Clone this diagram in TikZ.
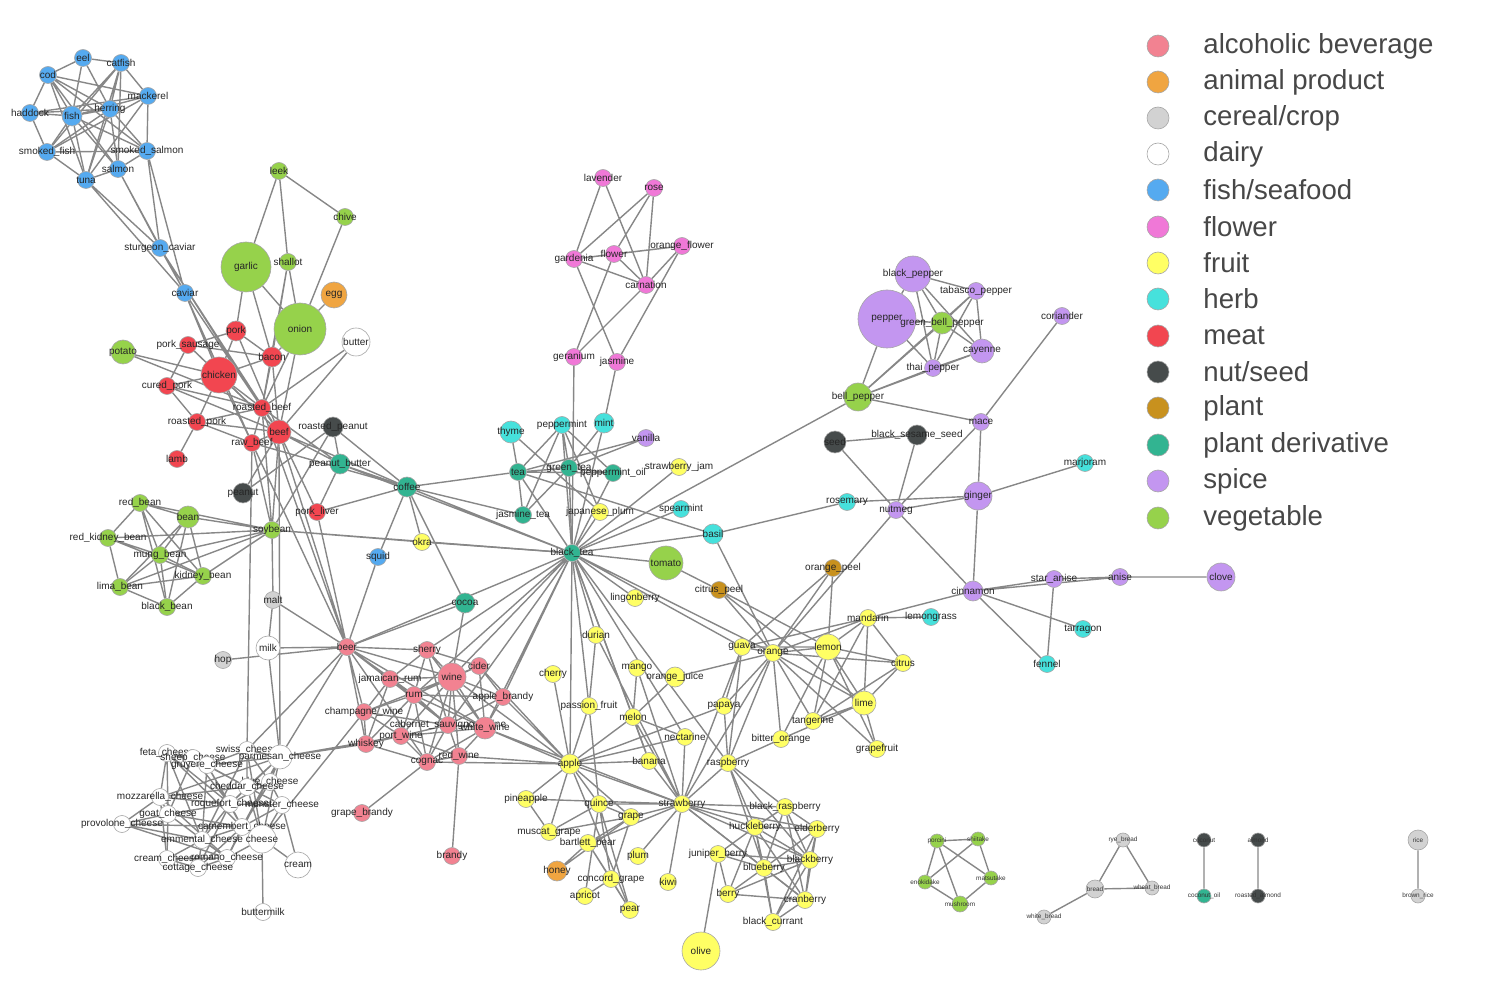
\documentclass[tikz,border=0pt]{standalone}
\usepackage{fontspec}
\setmainfont{Liberation Sans}
\pgfdeclarelayer{bg}
\pgfsetlayers{bg,main}
\definecolor{colAlc}{RGB}{242,130,145}
\definecolor{colAni}{RGB}{240,165,65}
\definecolor{colCer}{RGB}{210,210,210}
\definecolor{colFsh}{RGB}{85,170,240}
\definecolor{colFlw}{RGB}{240,120,215}
\definecolor{colFrt}{RGB}{255,255,100}
\definecolor{colHrb}{RGB}{70,225,220}
\definecolor{colMea}{RGB}{242,70,80}
\definecolor{colNut}{RGB}{70,75,75}
\definecolor{colPla}{RGB}{200,145,30}
\definecolor{colPld}{RGB}{50,180,145}
\definecolor{colSpi}{RGB}{195,150,240}
\definecolor{colVeg}{RGB}{150,210,75}
\definecolor{edgegray}{RGB}{135,135,135}
\newcommand\labfont{\fontsize{5}{6}\selectfont}
\newcommand\tinylab{\fontsize{3.2}{4}\selectfont}
\newcommand\legfont{\fontsize{13.8}{16}\selectfont}
\tikzset{
  ing/.style={circle, draw=black!35, line width=0.3pt, inner sep=0pt, minimum size=8.5pt},
  alc/.style={ing, fill=colAlc},
  ani/.style={ing, fill=colAni},
  cer/.style={ing, fill=colCer},
  dai/.style={ing, fill=white},
  fsh/.style={ing, fill=colFsh},
  flw/.style={ing, fill=colFlw},
  frt/.style={ing, fill=colFrt},
  hrb/.style={ing, fill=colHrb},
  mea/.style={ing, fill=colMea},
  nut/.style={ing, fill=colNut},
  pla/.style={ing, fill=colPla},
  pld/.style={ing, fill=colPld},
  spi/.style={ing, fill=colSpi},
  veg/.style={ing, fill=colVeg},
  every label/.style={font=\labfont, text=black!85, inner sep=0pt},
  fedge/.style={draw=edgegray, line width=0.7pt},
  legtext/.style={anchor=west, font=\legfont, text=black!72, inner sep=0pt},
}
\begin{document}
\begin{tikzpicture}[x=0.5pt, y=-0.5pt]
\useasboundingbox (0,0) rectangle (1500,994);
% fish
\node[fsh, label={center:eel}] (eel) at (83,58) {};
\node[fsh, label={center:catfish}] (catfish) at (121,63) {};
\node[fsh, label={center:cod}] (cod) at (48,75) {};
\node[fsh, label={center:mackerel}] (mackerel) at (148,96) {};
\node[fsh, label={center:herring}] (herring) at (110,109) {};
\node[fsh, label={center:haddock}] (haddock) at (30,113) {};
\node[fsh, minimum size=10pt, label={center:fish}] (fish) at (72,116) {};
\node[fsh, label={center:smoked\_fish}] (smokedfish) at (47,152) {};
\node[fsh, label={center:smoked\_salmon}] (smokedsalmon) at (147,151) {};
\node[fsh, label={center:salmon}] (salmon) at (118,169) {};
\node[fsh, label={center:tuna}] (tuna) at (86,180) {};
\node[fsh, label={center:sturgeon\_caviar}] (sturgeon) at (160,248) {};
\node[fsh, label={center:caviar}] (caviar) at (185,293) {};
% vegetables, meat
\node[veg, label={center:leek}] (leek) at (279,171) {};
\node[veg, label={center:chive}] (chive) at (345,217) {};
\node[veg, minimum size=25pt, label={center:garlic}] (garlic) at (246,267) {};
\node[veg, label={center:shallot}] (shallot) at (288,262) {};
\node[ani, minimum size=13pt, label={center:egg}] (egg) at (334,295) {};
\node[veg, minimum size=26pt, label={center:onion}] (onion) at (300,329) {};
\node[dai, minimum size=14pt, label={center:butter}] (butter) at (356,342) {};
\node[veg, minimum size=12pt, label={center:potato}] (potato) at (123,352) {};
\node[mea, minimum size=10pt, label={center:pork}] (pork) at (236,331) {};
\node[mea, label={center:pork\_sausage}] (porksausage) at (188,345) {};
\node[mea, minimum size=10pt, label={center:bacon}] (bacon) at (272,357) {};
\node[mea, minimum size=18pt, label={center:chicken}] (chicken) at (219,375) {};
\node[mea, label={center:cured\_pork}] (curedpork) at (167,386) {};
\node[mea, label={center:roasted\_beef}] (roastedbeef) at (262,408) {};
\node[mea, label={center:roasted\_pork}] (roastedpork) at (197,422) {};
\node[mea, minimum size=12pt, label={center:beef}] (beef) at (279,432) {};
\node[nut, minimum size=10pt, label={center:roasted\_peanut}] (roastedpeanut) at (333,427) {};
\node[mea, label={center:raw\_beef}] (rawbeef) at (252,443) {};
\node[mea, label={center:lamb}] (lamb) at (177,459) {};
\node[pld, minimum size=10pt, label={center:peanut\_butter}] (peanutbutter) at (340,464) {};
\node[pld, minimum size=10pt, label={center:coffee}] (coffee) at (407,487) {};
\node[nut, minimum size=10pt, label={center:peanut}] (peanut) at (243,493) {};
\node[mea, label={center:pork\_liver}] (porkliver) at (317,512) {};
% beans
\node[veg, label={center:red\_bean}] (redbean) at (140,503) {};
\node[veg, minimum size=11pt, label={center:bean}] (bean) at (188,517) {};
\node[veg, label={center:red\_kidney\_bean}] (redkidney) at (108,538) {};
\node[veg, label={center:soybean}] (soybean) at (272,530) {};
\node[veg, label={center:mung\_bean}] (mungbean) at (160,555) {};
\node[veg, label={center:kidney\_bean}] (kidneybean) at (203,576) {};
\node[veg, label={center:lima\_bean}] (limabean) at (120,587) {};
\node[veg, label={center:black\_bean}] (blackbean) at (167,607) {};
\node[fsh, label={center:squid}] (squid) at (378,557) {};
\node[frt, label={center:okra}] (okra) at (422,542) {};
\node[cer, label={center:malt}] (malt) at (273,600) {};
\node[pld, minimum size=10pt, label={center:cocoa}] (cocoa) at (465,603) {};
\node[dai, minimum size=12pt, label={center:milk}] (milk) at (268,648) {};
\node[cer, label={center:hop}] (hop) at (223,660) {};
\node[alc, label={center:beer}] (beer) at (347,647) {};
% alcoholic beverages
\node[alc, label={center:sherry}] (sherry) at (427,650) {};
\node[alc, label={center:cider}] (cider) at (479,666) {};
\node[alc, minimum size=14pt, label={center:wine}] (wine) at (452,677) {};
\node[alc, label={center:jamaican\_rum}] (jamrum) at (390,679) {};
\node[alc, label={center:rum}] (rum) at (414,695) {};
\node[alc, label={center:apple\_brandy}] (applebrandy) at (503,697) {};
\node[alc, label={center:champagne\_wine}] (champagne) at (364,712) {};
\node[alc, label={center:cabernet\_sauvignon\_wine}] (cabernet) at (448,725) {};
\node[alc, minimum size=11pt, label={center:white\_wine}] (whitewine) at (485,728) {};
\node[alc, label={center:port\_wine}] (portwine) at (401,736) {};
\node[alc, label={center:whiskey}] (whiskey) at (366,744) {};
\node[alc, label={center:cognac}] (cognac) at (427,762) {};
\node[alc, label={center:red\_wine}] (redwine) at (459,756) {};
\node[alc, label={center:grape\_brandy}] (grapebrandy) at (362,813) {};
\node[alc, label={center:brandy}] (brandy) at (452,856) {};
% cheeses
\node[dai, label={center:feta\_cheese}] (feta) at (167,753) {};
\node[dai, label={center:sheep\_cheese}] (sheep) at (193,758) {};
\node[dai, label={center:gruyere\_cheese}] (gruyere) at (207,765) {};
\node[dai, label={center:swiss\_cheese}] (swiss) at (247,750) {};
\node[dai, minimum size=12pt, label={center:parmesan\_cheese}] (parmesan) at (280,757) {};
\node[dai, label={center:blue\_cheese}] (blue) at (270,782) {};
\node[dai, label={center:cheddar\_cheese}] (cheddar) at (247,787) {};
\node[dai, label={center:mozzarella\_cheese}] (mozzarella) at (160,797) {};
\node[dai, label={center:roquefort\_cheese}] (roquefort) at (230,804) {};
\node[dai, label={center:munster\_cheese}] (munster) at (282,805) {};
\node[dai, label={center:goat\_cheese}] (goat) at (168,814) {};
\node[dai, label={center:provolone\_cheese}] (provolone) at (122,824) {};
\node[dai, label={center:camembert\_cheese}] (camembert) at (242,827) {};
\node[dai, label={center:emmental\_cheese}] (emmental) at (202,840) {};
\node[dai, minimum size=14pt, label={center:cheese}] (cheese) at (262,839) {};
\node[dai, label={center:cream\_cheese}] (creamcheese) at (167,859) {};
\node[dai, label={center:romano\_cheese}] (romano) at (227,858) {};
\node[dai, label={center:cottage\_cheese}] (cottage) at (198,868) {};
\node[dai, minimum size=13pt, label={center:cream}] (cream) at (298,865) {};
\node[dai, label={center:buttermilk}] (buttermilk) at (263,912) {};
% flowers
\node[flw, label={center:lavender}] (lavender) at (603,178) {};
\node[flw, label={center:rose}] (rose) at (654,188) {};
\node[flw, label={center:orange\_flower}] (orangeflower) at (682,246) {};
\node[flw, label={center:gardenia}] (gardenia) at (574,259) {};
\node[flw, label={center:flower}] (flower) at (614,254) {};
\node[flw, label={center:carnation}] (carnation) at (646,285) {};
\node[flw, label={center:geranium}] (geranium) at (574,357) {};
\node[flw, label={center:jasmine}] (jasmine) at (617,362) {};
% teas and herbs
\node[hrb, minimum size=11pt, label={center:thyme}] (thyme) at (511,432) {};
\node[hrb, label={center:peppermint}] (peppermint) at (562,425) {};
\node[hrb, minimum size=10pt, label={center:mint}] (mint) at (604,423) {};
\node[spi, label={center:vanilla}] (vanilla) at (646,438) {};
\node[pld, label={center:tea}] (tea) at (518,472) {};
\node[pld, label={center:green\_tea}] (greentea) at (569,468) {};
\node[pld, label={center:peppermint\_oil}] (peppermintoil) at (613,473) {};
\node[frt, label={center:strawberry\_jam}] (strawberryjam) at (679,467) {};
\node[pld, label={center:jasmine\_tea}] (jasminetea) at (523,515) {};
\node[frt, label={center:japanese\_plum}] (japaneseplum) at (600,512) {};
\node[hrb, label={center:spearmint}] (spearmint) at (681,509) {};
\node[hrb, minimum size=10pt, label={center:basil}] (basil) at (713,534) {};
\node[pld, label={center:black\_tea}] (blacktea) at (572,553) {};
\node[veg, minimum size=17pt, label={center:tomato}] (tomato) at (666,563) {};
\node[pla, label={center:citrus\_peel}] (citruspeel) at (719,590) {};
\node[frt, label={center:lingonberry}] (lingonberry) at (635,598) {};
% fruits
\node[frt, label={center:durian}] (durian) at (596,635) {};
\node[frt, label={center:guava}] (guava) at (742,647) {};
\node[frt, label={center:orange}] (orange) at (773,653) {};
\node[frt, minimum size=13pt, label={center:lemon}] (lemon) at (828,647) {};
\node[frt, label={center:cherry}] (cherry) at (553,674) {};
\node[frt, label={center:mango}] (mango) at (637,668) {};
\node[frt, minimum size=10pt, label={center:orange\_juice}] (orangejuice) at (675,677) {};
\node[frt, label={center:passion\_fruit}] (passionfruit) at (589,706) {};
\node[frt, label={center:papaya}] (papaya) at (724,706) {};
\node[frt, label={center:melon}] (melon) at (633,717) {};
\node[frt, label={center:tangerine}] (tangerine) at (813,721) {};
\node[frt, label={center:nectarine}] (nectarine) at (685,737) {};
\node[frt, label={center:bitter\_orange}] (bitterorange) at (781,739) {};
\node[frt, label={center:banana}] (banana) at (649,761) {};
\node[frt, label={center:raspberry}] (raspberry) at (728,763) {};
\node[frt, minimum size=10pt, label={center:apple}] (apple) at (570,764) {};
\node[frt, label={center:pineapple}] (pineapple) at (526,799) {};
\node[frt, label={center:quince}] (quince) at (599,804) {};
\node[frt, label={center:strawberry}] (strawberry) at (682,804) {};
\node[frt, label={center:grape}] (grape) at (631,817) {};
\node[frt, label={center:black\_raspberry}] (blackraspberry) at (785,807) {};
\node[frt, label={center:huckleberry}] (huckleberry) at (755,827) {};
\node[frt, label={center:elderberry}] (elderberry) at (817,829) {};
\node[frt, label={center:muscat\_grape}] (muscatgrape) at (549,832) {};
\node[frt, label={center:bartlett\_pear}] (bartlettpear) at (588,843) {};
\node[frt, label={center:plum}] (plum) at (638,856) {};
\node[frt, label={center:juniper\_berry}] (juniper) at (718,854) {};
\node[frt, label={center:blackberry}] (blackberry) at (810,860) {};
\node[frt, label={center:blueberry}] (blueberry) at (764,868) {};
\node[ani, minimum size=10pt, label={center:honey}] (honey) at (557,871) {};
\node[frt, label={center:concord\_grape}] (concordgrape) at (611,879) {};
\node[frt, label={center:kiwi}] (kiwi) at (668,882) {};
\node[frt, label={center:apricot}] (apricot) at (585,896) {};
\node[frt, label={center:berry}] (berry) at (728,894) {};
\node[frt, label={center:cranberry}] (cranberry) at (805,900) {};
\node[frt, label={center:pear}] (pear) at (630,910) {};
\node[frt, label={center:black\_currant}] (blackcurrant) at (773,922) {};
\node[frt, minimum size=19pt, label={center:olive}] (olive) at (701,951) {};
\node[frt, label={center:mandarin}] (mandarin) at (868,618) {};
\node[frt, label={center:citrus}] (citrus) at (903,663) {};
\node[frt, minimum size=12pt, label={center:lime}] (lime) at (864,703) {};
\node[frt, label={center:grapefruit}] (grapefruit) at (877,749) {};
% spices
\node[spi, minimum size=18pt, label={center:black\_pepper}] (blackpepper) at (913,274) {};
\node[spi, label={center:tabasco\_pepper}] (tabasco) at (976,291) {};
\node[spi, minimum size=29pt, label={center:pepper}] (pepper) at (887,319) {};
\node[veg, minimum size=11pt, label={center:green\_bell\_pepper}] (greenbell) at (942,323) {};
\node[spi, label={center:coriander}] (coriander) at (1062,316) {};
\node[spi, minimum size=12pt, label={center:cayenne}] (cayenne) at (982,351) {};
\node[spi, label={center:thai\_pepper}] (thaipepper) at (933,368) {};
\node[veg, minimum size=14pt, label={center:bell\_pepper}] (bellpepper) at (858,397) {};
\node[spi, label={center:mace}] (mace) at (981,422) {};
\node[nut, minimum size=11pt, label={center:seed}] (seed) at (835,442) {};
\node[nut, minimum size=10pt, label={center:black\_sesame\_seed}] (blacksesame) at (917,435) {};
\node[hrb, label={center:marjoram}] (marjoram) at (1085,463) {};
\node[spi, minimum size=14pt, label={center:ginger}] (ginger) at (978,496) {};
\node[hrb, label={center:rosemary}] (rosemary) at (847,502) {};
\node[spi, label={center:nutmeg}] (nutmeg) at (896,510) {};
\node[pla, label={center:orange\_peel}] (orangepeel) at (833,568) {};
\node[spi, minimum size=10pt, label={center:cinnamon}] (cinnamon) at (973,591) {};
\node[spi, label={center:star\_anise}] (staranise) at (1054,579) {};
\node[spi, label={center:anise}] (anise) at (1120,577) {};
\node[spi, minimum size=14pt, label={center:clove}] (clove) at (1221,577) {};
\node[hrb, label={center:lemongrass}] (lemongrass) at (931,617) {};
\node[hrb, label={center:tarragon}] (tarragon) at (1083,629) {};
\node[hrb, label={center:fennel}] (fennel) at (1047,664) {};
% small groups
\begin{scope}[every label/.style={font=\tinylab, text=black!80, inner sep=0pt}, ing/.append style={minimum size=7pt}]
\node[veg, label={center:porcini}] (porcini) at (937,841) {};
\node[veg, label={center:shiitake}] (shiitake) at (978,839) {};
\node[veg, label={center:enokidake}] (enokidake) at (925,882) {};
\node[veg, label={center:matsutake}] (matsutake) at (991,878) {};
\node[veg, minimum size=8pt, label={center:mushroom}] (mushroom) at (960,904) {};
\node[cer, label={center:rye\_bread}] (ryebread) at (1123,840) {};
\node[cer, minimum size=9pt, label={center:bread}] (bread) at (1095,889) {};
\node[cer, label={center:wheat\_bread}] (wheatbread) at (1152,888) {};
\node[cer, label={center:white\_bread}] (whitebread) at (1044,917) {};
\node[nut, label={center:coconut}] (coconut) at (1204,840) {};
\node[pld, label={center:coconut\_oil}] (coconutoil) at (1204,896) {};
\node[nut, label={center:almond}] (almond) at (1258,840) {};
\node[nut, label={center:roasted\_almond}] (roastedalmond) at (1258,896) {};
\node[cer, minimum size=10pt, label={center:rice}] (rice) at (1418,840) {};
\node[cer, label={center:brown\_rice}] (brownrice) at (1418,896) {};
\end{scope}
% legend
\node[alc, minimum size=11pt] (lg1) at (1158,46) {};
\node[ani, minimum size=11pt] (lg2) at (1158,82) {};
\node[cer, minimum size=11pt] (lg3) at (1158,118) {};
\node[dai, minimum size=11pt] (lg4) at (1158,154) {};
\node[fsh, minimum size=11pt] (lg5) at (1158,190) {};
\node[flw, minimum size=11pt] (lg6) at (1158,227) {};
\node[frt, minimum size=11pt] (lg7) at (1158,263) {};
\node[hrb, minimum size=11pt] (lg8) at (1158,299) {};
\node[mea, minimum size=11pt] (lg9) at (1158,336) {};
\node[nut, minimum size=11pt] (lg10) at (1158,372) {};
\node[pla, minimum size=11pt] (lg11) at (1158,408) {};
\node[pld, minimum size=11pt] (lg12) at (1158,445) {};
\node[spi, minimum size=11pt] (lg13) at (1158,481) {};
\node[veg, minimum size=11pt] (lg14) at (1158,518) {};
\node[legtext] (lt1) at (1203,46) {alcoholic beverage};
\node[legtext] (lt2) at (1203,82) {animal product};
\node[legtext] (lt3) at (1203,118) {cereal/crop};
\node[legtext] (lt4) at (1203,154) {dairy};
\node[legtext] (lt5) at (1203,190) {fish/seafood};
\node[legtext] (lt6) at (1203,227) {flower};
\node[legtext] (lt7) at (1203,263) {fruit};
\node[legtext] (lt8) at (1203,299) {herb};
\node[legtext] (lt9) at (1203,336) {meat};
\node[legtext] (lt10) at (1203,372) {nut/seed};
\node[legtext] (lt11) at (1203,408) {plant};
\node[legtext] (lt12) at (1203,445) {plant derivative};
\node[legtext] (lt13) at (1203,481) {spice};
\node[legtext] (lt14) at (1203,518) {vegetable};
% edges
\begin{pgfonlayer}{bg}
\draw[fedge] (eel) -- (catfish) (eel) -- (cod) (eel) -- (herring) (eel) -- (fish) (cod) -- (haddock) (cod) -- (fish) (cod) -- (mackerel) (cod) -- (herring) (cod) -- (smokedsalmon) (cod) -- (salmon) (cod) -- (tuna);
\draw[fedge] (catfish) -- (fish) (catfish) -- (herring) (catfish) -- (mackerel) (catfish) -- (smokedfish) (catfish) -- (tuna) (catfish) -- (salmon) (haddock) -- (fish) (haddock) -- (smokedfish) (haddock) -- (mackerel) (haddock) -- (herring);
\draw[fedge] (fish) -- (smokedfish) (fish) -- (herring) (fish) -- (mackerel) (fish) -- (tuna) (fish) -- (salmon) (fish) -- (smokedsalmon) (herring) -- (smokedfish) (herring) -- (tuna) (herring) -- (salmon) (herring) -- (smokedsalmon);
\draw[fedge] (mackerel) -- (smokedsalmon) (mackerel) -- (smokedfish) (mackerel) -- (tuna) (smokedfish) -- (smokedsalmon) (smokedfish) -- (tuna) (salmon) -- (tuna) (salmon) -- (smokedsalmon);
\draw[fedge] (tuna) -- (sturgeon) (salmon) -- (sturgeon) (smokedsalmon) -- (sturgeon) (tuna) -- (caviar) (salmon) -- (caviar) (smokedsalmon) -- (caviar) (sturgeon) -- (caviar) (sturgeon) -- (roastedbeef) (sturgeon) -- (beef) (caviar) -- (roastedbeef) (caviar) -- (chicken) (caviar) -- (rawbeef);
\draw[fedge] (leek) -- (garlic) (leek) -- (shallot) (leek) -- (chive) (chive) -- (onion) (garlic) -- (pork) (garlic) -- (onion) (garlic) -- (bacon) (shallot) -- (onion) (shallot) -- (bacon) (shallot) -- (roastedbeef) (egg) -- (onion) (onion) -- (bacon) (onion) -- (roastedbeef) (onion) -- (beef);
\draw[fedge] (butter) -- (roastedbeef) (butter) -- (beef) (potato) -- (roastedbeef) (potato) -- (chicken) (pork) -- (chicken) (pork) -- (bacon) (pork) -- (porksausage) (pork) -- (beef) (porksausage) -- (chicken) (porksausage) -- (curedpork) (porksausage) -- (bacon) (porksausage) -- (beef);
\draw[fedge] (chicken) -- (curedpork) (chicken) -- (bacon) (chicken) -- (roastedpork) (chicken) -- (roastedbeef) (chicken) -- (beef) (chicken) -- (rawbeef) (curedpork) -- (roastedpork) (curedpork) -- (roastedbeef) (curedpork) -- (beef) (roastedpork) -- (lamb) (roastedpork) -- (roastedbeef) (roastedpork) -- (beef) (roastedpork) -- (rawbeef);
\draw[fedge] (roastedbeef) -- (beef) (roastedbeef) -- (rawbeef) (rawbeef) -- (beef) (bacon) -- (beef) (bacon) -- (roastedbeef) (beef) -- (peanutbutter) (beef) -- (coffee) (rawbeef) -- (coffee) (roastedbeef) -- (peanutbutter) (roastedpeanut) -- (peanutbutter) (roastedpeanut) -- (coffee) (roastedpeanut) -- (peanut);
\draw[fedge] (peanutbutter) -- (coffee) (peanutbutter) -- (blacktea) (coffee) -- (blacktea) (beef) -- (soybean) (rawbeef) -- (soybean) (roastedbeef) -- (soybean) (beef) -- (porkliver) (rawbeef) -- (beer) (beef) -- (beer) (roastedbeef) -- (beer) (porkliver) -- (coffee) (porkliver) -- (beer) (peanut) -- (beef) (peanutbutter) -- (porkliver);
\draw[fedge] (redbean) -- (bean) (redbean) -- (redkidney) (redbean) -- (mungbean) (redbean) -- (kidneybean) (redbean) -- (blackbean) (redbean) -- (soybean) (bean) -- (mungbean) (bean) -- (limabean) (bean) -- (blackbean) (bean) -- (kidneybean) (bean) -- (soybean) (redkidney) -- (mungbean) (redkidney) -- (limabean) (redkidney) -- (soybean) (redkidney) -- (kidneybean);
\draw[fedge] (mungbean) -- (limabean) (mungbean) -- (blackbean) (mungbean) -- (kidneybean) (mungbean) -- (soybean) (limabean) -- (blackbean) (limabean) -- (soybean) (kidneybean) -- (blackbean) (kidneybean) -- (soybean) (limabean) -- (kidneybean) (soybean) -- (blacktea) (soybean) -- (okra) (soybean) -- (roastedpeanut);
\draw[fedge] (coffee) -- (squid) (coffee) -- (cocoa) (coffee) -- (okra) (coffee) -- (tea) (coffee) -- (jasminetea) (squid) -- (beer) (cocoa) -- (beer) (cocoa) -- (wine) (okra) -- (blacktea) (malt) -- (beer) (malt) -- (milk) (malt) -- (soybean) (milk) -- (beer) (hop) -- (beer) (milk) -- (parmesan);
\draw[fedge] (beer) -- (sherry) (beer) -- (jamrum) (beer) -- (rum) (beer) -- (wine) (beer) -- (whiskey) (beer) -- (champagne) (beer) -- (cognac) (beer) -- (cabernet) (beer) -- (whitewine) (beer) -- (parmesan) (beer) -- (swiss) (beer) -- (blacktea);
\draw[fedge] (sherry) -- (wine) (sherry) -- (rum) (sherry) -- (jamrum) (sherry) -- (cider) (sherry) -- (cabernet) (sherry) -- (whitewine) (cider) -- (wine) (cider) -- (applebrandy) (cider) -- (whitewine) (cider) -- (rum) (wine) -- (jamrum) (wine) -- (rum) (wine) -- (applebrandy) (wine) -- (cabernet) (wine) -- (whitewine) (wine) -- (redwine) (wine) -- (portwine) (wine) -- (champagne) (wine) -- (cognac);
\draw[fedge] (jamrum) -- (rum) (jamrum) -- (champagne) (jamrum) -- (whiskey) (jamrum) -- (cabernet) (rum) -- (champagne) (rum) -- (portwine) (rum) -- (whiskey) (rum) -- (cognac) (rum) -- (cabernet) (rum) -- (whitewine) (rum) -- (applebrandy) (applebrandy) -- (whitewine) (applebrandy) -- (cabernet);
\draw[fedge] (champagne) -- (portwine) (champagne) -- (whiskey) (champagne) -- (cabernet) (cabernet) -- (whitewine) (cabernet) -- (redwine) (cabernet) -- (portwine) (cabernet) -- (cognac) (whitewine) -- (redwine) (whitewine) -- (cognac) (whitewine) -- (portwine) (portwine) -- (whiskey) (portwine) -- (cognac) (portwine) -- (redwine) (whiskey) -- (cognac) (cognac) -- (redwine) (grapebrandy) -- (cognac) (brandy) -- (redwine);
\draw[fedge] (wine) -- (blacktea) (whitewine) -- (blacktea) (cabernet) -- (blacktea) (whitewine) -- (apple) (wine) -- (apple) (redwine) -- (apple) (applebrandy) -- (apple) (cider) -- (apple) (whitewine) -- (strawberry) (applebrandy) -- (blacktea) (rum) -- (blacktea) (sherry) -- (blacktea) (whiskey) -- (parmesan) (portwine) -- (parmesan) (champagne) -- (cheese) (cognac) -- (apple);
\draw[fedge] (feta) -- (sheep) (feta) -- (gruyere) (feta) -- (goat) (feta) -- (mozzarella) (feta) -- (roquefort) (feta) -- (camembert) (feta) -- (emmental) (sheep) -- (gruyere) (sheep) -- (roquefort) (sheep) -- (goat) (sheep) -- (cheddar) (gruyere) -- (swiss) (gruyere) -- (parmesan) (gruyere) -- (emmental) (gruyere) -- (cheddar) (gruyere) -- (roquefort) (gruyere) -- (camembert);
\draw[fedge] (swiss) -- (parmesan) (swiss) -- (cheddar) (swiss) -- (blue) (swiss) -- (cheese) (swiss) -- (emmental) (parmesan) -- (blue) (parmesan) -- (cheddar) (parmesan) -- (romano) (parmesan) -- (mozzarella) (parmesan) -- (cheese) (parmesan) -- (roquefort) (parmesan) -- (camembert) (blue) -- (cheddar) (blue) -- (roquefort) (blue) -- (munster) (blue) -- (camembert);
\draw[fedge] (cheddar) -- (roquefort) (cheddar) -- (munster) (cheddar) -- (mozzarella) (cheddar) -- (cheese) (mozzarella) -- (goat) (mozzarella) -- (roquefort) (mozzarella) -- (provolone) (mozzarella) -- (romano) (mozzarella) -- (creamcheese) (roquefort) -- (munster) (roquefort) -- (goat) (roquefort) -- (camembert) (roquefort) -- (emmental) (roquefort) -- (cottage);
\draw[fedge] (munster) -- (camembert) (munster) -- (cheese) (goat) -- (provolone) (goat) -- (camembert) (goat) -- (creamcheese) (goat) -- (romano) (provolone) -- (romano) (provolone) -- (camembert) (provolone) -- (emmental) (camembert) -- (emmental) (camembert) -- (cheese) (camembert) -- (romano) (camembert) -- (cottage);
\draw[fedge] (emmental) -- (creamcheese) (emmental) -- (cottage) (emmental) -- (romano) (cheese) -- (cream) (cheese) -- (buttermilk) (cheese) -- (romano) (creamcheese) -- (cottage) (creamcheese) -- (romano) (romano) -- (cottage) (cream) -- (munster) (swiss) -- (rawbeef) (parmesan) -- (beef);
\draw[fedge] (lavender) -- (gardenia) (lavender) -- (carnation) (rose) -- (gardenia) (rose) -- (flower) (rose) -- (carnation) (gardenia) -- (flower) (gardenia) -- (orangeflower) (gardenia) -- (carnation) (gardenia) -- (jasmine) (flower) -- (orangeflower) (flower) -- (carnation) (flower) -- (geranium) (orangeflower) -- (carnation) (orangeflower) -- (jasmine) (carnation) -- (geranium) (geranium) -- (blacktea) (jasmine) -- (mint);
\draw[fedge] (thyme) -- (japaneseplum) (thyme) -- (tea) (peppermint) -- (tea) (peppermint) -- (greentea) (peppermint) -- (jasminetea) (peppermint) -- (peppermintoil) (peppermint) -- (japaneseplum) (peppermint) -- (blacktea) (mint) -- (blacktea) (mint) -- (greentea) (vanilla) -- (tea) (vanilla) -- (greentea);
\draw[fedge] (tea) -- (greentea) (tea) -- (jasminetea) (tea) -- (peppermintoil) (tea) -- (blacktea) (tea) -- (basil) (greentea) -- (jasminetea) (greentea) -- (blacktea) (greentea) -- (peppermintoil) (peppermintoil) -- (blacktea) (japaneseplum) -- (blacktea) (spearmint) -- (blacktea) (strawberryjam) -- (blacktea) (basil) -- (blacktea);
\draw[fedge] (tomato) -- (blacktea) (tomato) -- (citruspeel) (lingonberry) -- (blacktea) (blacktea) -- (bellpepper) (basil) -- (rosemary) (basil) -- (orange) (rosemary) -- (ginger) (nutmeg) -- (ginger) (nutmeg) -- (cinnamon) (nutmeg) -- (mace) (nutmeg) -- (seed) (nutmeg) -- (blacksesame) (nutmeg) -- (orange);
\draw[fedge] (ginger) -- (mace) (ginger) -- (marjoram) (ginger) -- (cinnamon) (mace) -- (coriander) (mace) -- (bellpepper) (seed) -- (blacksesame) (cinnamon) -- (staranise) (cinnamon) -- (anise) (staranise) -- (anise) (anise) -- (clove) (cinnamon) -- (tarragon) (cinnamon) -- (fennel) (staranise) -- (fennel) (cinnamon) -- (mandarin) (orangepeel) -- (orange) (orangepeel) -- (lemon);
\draw[fedge] (blackpepper) -- (pepper) (blackpepper) -- (tabasco) (blackpepper) -- (greenbell) (blackpepper) -- (cayenne) (blackpepper) -- (thaipepper) (pepper) -- (greenbell) (pepper) -- (bellpepper) (pepper) -- (thaipepper) (tabasco) -- (greenbell) (tabasco) -- (cayenne) (tabasco) -- (thaipepper) (tabasco) -- (bellpepper);
\draw[fedge] (greenbell) -- (cayenne) (greenbell) -- (thaipepper) (greenbell) -- (bellpepper) (cayenne) -- (thaipepper) (cayenne) -- (bellpepper) (thaipepper) -- (bellpepper);
\draw[fedge] (mandarin) -- (lemon) (mandarin) -- (orange) (mandarin) -- (lemongrass) (mandarin) -- (citrus) (mandarin) -- (lime) (mandarin) -- (tangerine) (mandarin) -- (guava) (lemon) -- (orange) (lemon) -- (lime) (lemon) -- (citrus) (lemon) -- (tangerine) (lemon) -- (grapefruit) (lemon) -- (bitterorange) (lemon) -- (guava);
\draw[fedge] (orange) -- (lime) (orange) -- (tangerine) (orange) -- (citrus) (orange) -- (grapefruit) (orange) -- (bitterorange) (orange) -- (guava) (orange) -- (orangejuice) (orange) -- (raspberry) (orange) -- (papaya) (lime) -- (citrus) (lime) -- (tangerine) (lime) -- (grapefruit) (lime) -- (bitterorange) (citrus) -- (tangerine);
\draw[fedge] (citruspeel) -- (orange) (citruspeel) -- (lime) (citruspeel) -- (lemon) (guava) -- (papaya) (guava) -- (raspberry) (guava) -- (strawberry) (guava) -- (blacktea) (orange) -- (blacktea) (orange) -- (strawberry) (bitterorange) -- (raspberry) (orangepeel) -- (guava);
\draw[fedge] (durian) -- (blacktea) (durian) -- (passionfruit) (durian) -- (strawberry) (mango) -- (melon) (mango) -- (strawberry) (orangejuice) -- (melon) (cherry) -- (apple) (passionfruit) -- (apple) (passionfruit) -- (quince) (passionfruit) -- (blacktea) (melon) -- (apple) (melon) -- (strawberry) (melon) -- (banana) (melon) -- (blacktea);
\draw[fedge] (nectarine) -- (apple) (nectarine) -- (strawberry) (nectarine) -- (melon) (nectarine) -- (blacktea) (papaya) -- (apple) (papaya) -- (raspberry) (banana) -- (apple) (banana) -- (strawberry) (banana) -- (blacktea) (raspberry) -- (strawberry) (raspberry) -- (blackberry) (raspberry) -- (blueberry) (raspberry) -- (blacktea);
\draw[fedge] (apple) -- (strawberry) (apple) -- (grape) (apple) -- (quince) (apple) -- (pineapple) (apple) -- (pear) (apple) -- (muscatgrape) (apple) -- (blacktea) (pineapple) -- (strawberry) (strawberry) -- (grape) (strawberry) -- (quince) (strawberry) -- (kiwi) (strawberry) -- (plum) (strawberry) -- (huckleberry) (strawberry) -- (blueberry) (strawberry) -- (blackberry);
\draw[fedge] (strawberry) -- (elderberry) (strawberry) -- (cranberry) (strawberry) -- (blackraspberry) (strawberry) -- (bartlettpear) (grape) -- (quince) (grape) -- (muscatgrape) (grape) -- (concordgrape) (grape) -- (bartlettpear) (quince) -- (pear) (quince) -- (apricot) (quince) -- (concordgrape) (quince) -- (muscatgrape) (muscatgrape) -- (pineapple);
\draw[fedge] (bartlettpear) -- (honey) (bartlettpear) -- (concordgrape) (bartlettpear) -- (pear) (honey) -- (grape) (apricot) -- (concordgrape) (concordgrape) -- (pear) (olive) -- (juniper) (juniper) -- (huckleberry) (juniper) -- (berry) (juniper) -- (blueberry) (juniper) -- (blackberry);
\draw[fedge] (huckleberry) -- (blackraspberry) (huckleberry) -- (elderberry) (huckleberry) -- (blackberry) (huckleberry) -- (blueberry) (huckleberry) -- (cranberry) (huckleberry) -- (blackcurrant) (huckleberry) -- (berry) (blackraspberry) -- (elderberry) (blackraspberry) -- (blueberry) (blackraspberry) -- (blackberry) (blackraspberry) -- (cranberry);
\draw[fedge] (elderberry) -- (blackberry) (elderberry) -- (blueberry) (elderberry) -- (cranberry) (elderberry) -- (blackcurrant) (blackberry) -- (blueberry) (blackberry) -- (cranberry) (blackberry) -- (blackcurrant) (blackberry) -- (berry) (blueberry) -- (cranberry) (blueberry) -- (berry) (blueberry) -- (blackcurrant) (cranberry) -- (blackcurrant) (berry) -- (cranberry) (raspberry) -- (blackraspberry) (raspberry) -- (huckleberry);
\draw[fedge] (porcini) -- (shiitake) (porcini) -- (enokidake) (porcini) -- (matsutake) (porcini) -- (mushroom) (shiitake) -- (matsutake) (shiitake) -- (enokidake) (enokidake) -- (mushroom) (matsutake) -- (mushroom);
\draw[fedge] (ryebread) -- (bread) (ryebread) -- (wheatbread) (bread) -- (wheatbread) (bread) -- (whitebread) (coconut) -- (coconutoil) (almond) -- (roastedalmond) (rice) -- (brownrice);
\end{pgfonlayer}
\end{tikzpicture}
\end{document}
